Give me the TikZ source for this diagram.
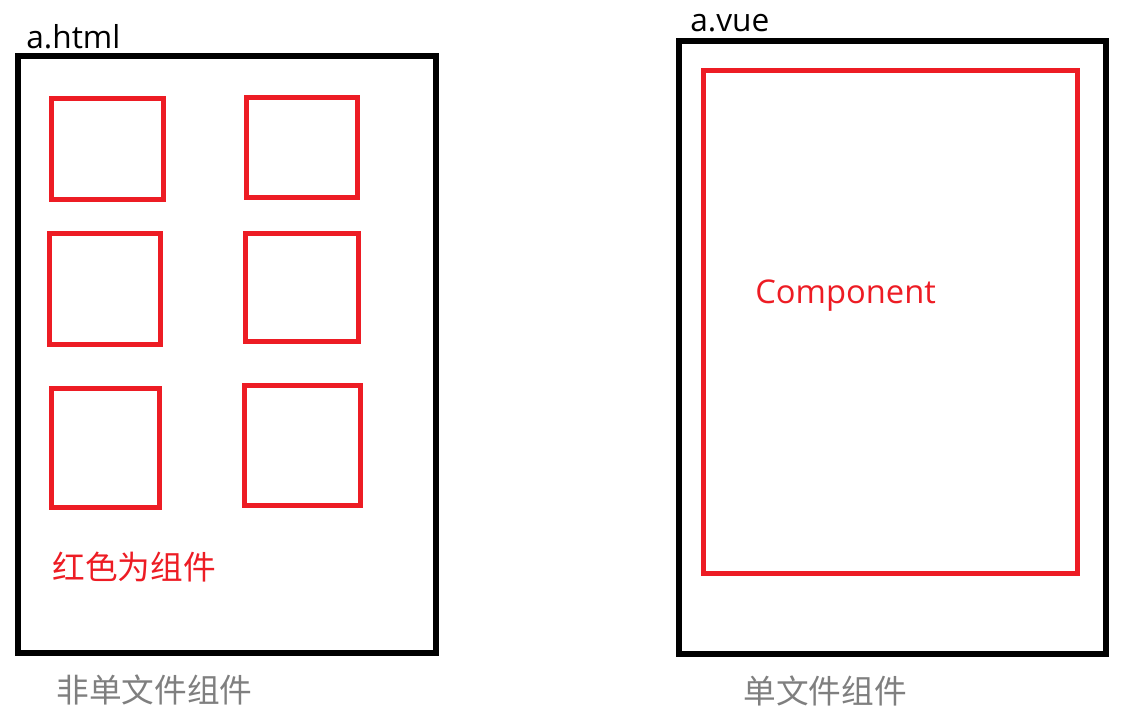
\documentclass[tikz,border=0pt]{standalone}
\usepackage{fontspec}
\setmainfont{Open Sans}
\newfontfamily\cjk{Noto Sans CJK SC}
\definecolor{compred}{HTML}{ED1C24}
\definecolor{notegray}{HTML}{7F7F7F}

\begin{document}
\begin{tikzpicture}[x=0.02cm,y=-0.02cm,
   frame/.style={rectangle,draw=black,line width=3pt,inner sep=0pt},
   comp/.style={rectangle,draw=compred,line width=2.85pt,inner sep=0pt},
   lbl/.style={inner sep=0pt,anchor=base west,font=\fontsize{18pt}{20pt}\selectfont},
   biglbl/.style={lbl,font=\fontsize{18.6pt}{21pt}\selectfont}
    ]
    \useasboundingbox (0,0) rectangle (1136,716);

    % Files:
    \node[frame,minimum width=8.36cm,minimum height=11.94cm] at (227,354.5) (html) {};
    \node[frame,minimum width=8.54cm,minimum height=12.26cm] at (892.5,347.5) (vue) {};
    \node[lbl] at (26,49) (htmlname) {a.html};
    \node[lbl] at (690,32) (vuename) {a.vue};

    % Components in a.html:
    \node[comp,minimum width=2.23cm,minimum height=2.01cm] at (107.3,148.8) (c1) {};
    \node[comp,minimum width=2.22cm,minimum height=2.00cm] at (302,147.5) (c2) {};
    \node[comp,minimum width=2.22cm,minimum height=2.22cm] at (105,289) (c3) {};
    \node[comp,minimum width=2.26cm,minimum height=2.16cm] at (302,287.5) (c4) {};
    \node[comp,minimum width=2.16cm,minimum height=2.38cm] at (105.5,448) (c5) {};
    \node[comp,minimum width=2.32cm,minimum height=2.40cm] at (302.5,445.5) (c6) {};
    \node[biglbl,text=compred] at (52,579) (note) {\cjk 红色为组件};

    % Component in a.vue:
    \node[comp,minimum width=7.5cm,minimum height=10.08cm] at (890.5,322) (single) {};
    \node[biglbl,text=compred] at (755,303) (compname) {Component};

    % captions
    \node[biglbl,text=notegray] at (56,702) (capl) {\cjk 非单文件组件};
    \node[biglbl,text=notegray] at (743,703) (capr) {\cjk 单文件组件};

\end{tikzpicture}
\end{document}
